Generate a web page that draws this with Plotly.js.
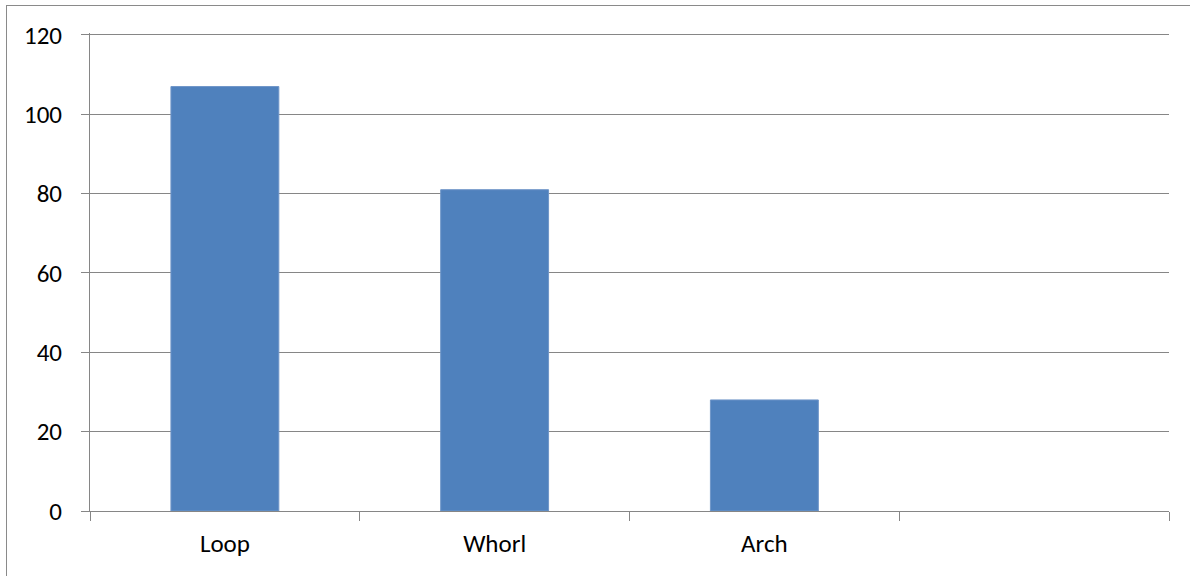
<!DOCTYPE html>
<html>
<head>
<meta charset="utf-8">
<script src="https://cdn.plot.ly/plotly-3.0.1.min.js"></script>
<style>
html,body{margin:0;padding:0;background:#fff;overflow:hidden;}
#frame{position:absolute;left:6px;top:5px;width:2000px;height:2000px;border:1px solid #8a8a8a;pointer-events:none;}
#chart{position:absolute;left:0;top:0;width:1190px;height:576px;}
</style>
</head>
<body>
<div id="chart"></div>
<div id="frame"></div>
<script>
const categories = ["Loop", "Whorl", "Arch", " "];
const values = [107, 81, 28, null];
const yTicks = [0, 20, 40, 60, 80, 100, 120];

const FONT = "Carlito, Calibri, 'Liberation Sans', Arial, sans-serif";
const GRID = "#868686";

Plotly.newPlot("chart", [{
  type: "bar",
  x: categories,
  y: values,
  marker: {color: "#4F81BD", line: {color: "#6f96c8", width: 1}},
  hoverinfo: "skip"
}], {
  width: 1190, height: 576,
  margin: {l: 90, r: 21, t: 32.5, b: 64.5, pad: 0},
  paper_bgcolor: "rgba(0,0,0,0)",
  plot_bgcolor: "rgba(0,0,0,0)",
  showlegend: false,
  bargap: 0.6,
  font: {family: FONT, size: 25, color: "#000"},
  xaxis: {
    type: "category",
    categoryorder: "array",
    categoryarray: categories,
    range: [-0.5, 3.5],
    tickson: "boundaries",
    ticks: "outside", ticklen: 9, tickcolor: GRID, tickwidth: 1,
    showline: true, linecolor: GRID, linewidth: 1,
    showgrid: false, zeroline: false,
    ticklabelstandoff: 10,
    tickfont: {family: FONT, size: 25, color: "#000"},
    fixedrange: true
  },
  yaxis: {
    range: [0, 120.5],
    tickvals: yTicks,
    ticktext: yTicks.map(String),
    ticks: "outside", ticklen: 8, tickcolor: GRID, tickwidth: 1,
    showline: true, linecolor: GRID, linewidth: 1,
    showgrid: true, gridcolor: GRID, gridwidth: 1,
    zeroline: false,
    ticklabelstandoff: 14,
    tickfont: {family: FONT, size: 25, color: "#000"},
    fixedrange: true
  }
}, {staticPlot: true, displayModeBar: false});
</script>
</body>
</html>
